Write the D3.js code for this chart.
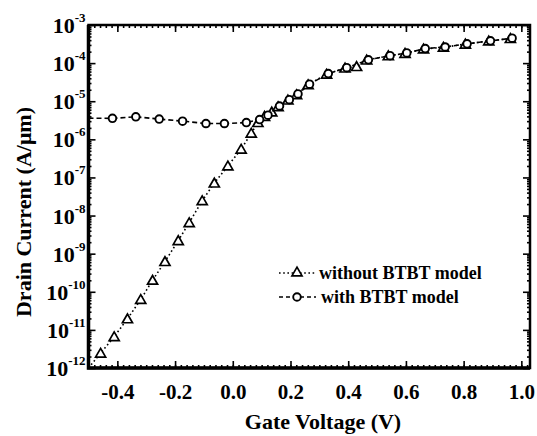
<!DOCTYPE html>
<html><head><meta charset="utf-8">
<script src="https://cdn.jsdelivr.net/npm/d3@7"></script>
<style>
html,body{margin:0;padding:0;background:#fff;}
text{font-family:"Liberation Serif","Times New Roman",serif;font-weight:bold;fill:#000;}
</style></head>
<body><svg id="c" width="537" height="436"></svg>
<script>
// Gate voltage (V) and drain current (A/um) — without BTBT model (triangles)
const vWithout = [-0.5, -0.458, -0.411, -0.365, -0.319, -0.278, -0.235, -0.189, -0.151, -0.106, -0.064, -0.017, 0.029, 0.064, 0.087, 0.110, 0.135, 0.157, 0.191, 0.221, 0.261, 0.325, 0.389, 0.429, 0.464, 0.539, 0.597, 0.661, 0.730, 0.806, 0.887, 0.962];
const iWithout = [1.0e-12, 2.45e-12, 6.6e-12, 1.95e-11, 6.3e-11, 2.0e-10, 6.2e-10, 2.2e-9, 6.5e-9, 2.45e-8, 7.1e-8, 2.0e-7, 5.5e-7, 1.45e-6, 2.75e-6, 4.0e-6, 5.2e-6, 7.2e-6, 1.07e-5, 1.48e-5, 2.7e-5, 5.1e-5, 7.4e-5, 8.1e-5, 1.2e-4, 1.55e-4, 1.8e-4, 2.35e-4, 2.6e-4, 3.15e-4, 3.8e-4, 4.4e-4];
// with BTBT model (circles)
const vWith = [-0.5, -0.417, -0.336, -0.255, -0.174, -0.093, -0.029, 0.047, 0.093, 0.122, 0.162, 0.196, 0.226, 0.266, 0.331, 0.395, 0.470, 0.545, 0.603, 0.667, 0.736, 0.812, 0.893, 0.968];
const iWith = [3.6e-6, 3.55e-6, 3.9e-6, 3.4e-6, 3.0e-6, 2.6e-6, 2.6e-6, 2.75e-6, 3.3e-6, 4.3e-6, 7.5e-6, 1.1e-5, 1.55e-5, 2.8e-5, 5.3e-5, 7.6e-5, 1.22e-4, 1.57e-4, 1.85e-4, 2.4e-4, 2.65e-4, 3.2e-4, 3.85e-4, 4.5e-4];
const xTicks = [-0.4, -0.2, 0.0, 0.2, 0.4, 0.6, 0.8, 1.0];
const yTickExps = [-12, -11, -10, -9, -8, -7, -6, -5, -4, -3];
const legendLabels = ["without BTBT model", "with BTBT model"];
const xTitle = "Gate Voltage (V)";
const yTitle = "Drain Current (A/\u03bcm)";

const svg = d3.select("#c");
const L = 88.5, R = 530, T = 25, B = 368;
const x = d3.scaleLinear().domain([-0.5, 1.03]).range([L, R]);
const y = d3.scaleLog().domain([1e-12, 1e-3]).range([B, T]);

const fmt = v => d3.format(".1f")(v).replace("\u2212", "-");
const xMinor = d3.range(-0.5, 1.031, 0.02).map(v => +v.toFixed(2));
const yMinor = [];
yTickExps.slice(0, -1).forEach(e => { for (let k = 2; k <= 9; k++) yMinor.push(k * Math.pow(10, e)); });
const yMajor = yTickExps.map(e => Math.pow(10, e));

function styleAxis(g) { g.select(".domain").remove(); g.selectAll("line").attr("stroke", "#000").attr("stroke-width", 1.6); }

// bottom
svg.append("g").attr("transform", `translate(0,${B})`).call(d3.axisBottom(x).tickValues(xMinor).tickSizeInner(-3).tickSizeOuter(0).tickFormat("")).call(styleAxis);
svg.append("g").attr("transform", `translate(0,${B})`).call(d3.axisBottom(x).tickValues(xTicks).tickSizeInner(-7).tickSizeOuter(0).tickPadding(16).tickFormat(fmt)).call(styleAxis)
  .selectAll("text").attr("font-size", 21).attr("font-family", "Liberation Serif").attr("font-weight", "bold");
// top
svg.append("g").attr("transform", `translate(0,${T})`).call(d3.axisTop(x).tickValues(xMinor).tickSizeInner(-3).tickSizeOuter(0).tickFormat("")).call(styleAxis);
svg.append("g").attr("transform", `translate(0,${T})`).call(d3.axisTop(x).tickValues(xTicks).tickSizeInner(-7).tickSizeOuter(0).tickFormat("")).call(styleAxis);
// left
svg.append("g").attr("transform", `translate(${L},0)`).call(d3.axisLeft(y).tickValues(yMinor).tickSizeInner(-3).tickSizeOuter(0).tickFormat("")).call(styleAxis);
svg.append("g").attr("transform", `translate(${L},0)`).call(d3.axisLeft(y).tickValues(yMajor).tickSizeInner(-7).tickSizeOuter(0).tickFormat("")).call(styleAxis);
// right
svg.append("g").attr("transform", `translate(${R},0)`).call(d3.axisRight(y).tickValues(yMinor).tickSizeInner(-3).tickSizeOuter(0).tickFormat("")).call(styleAxis);
svg.append("g").attr("transform", `translate(${R},0)`).call(d3.axisRight(y).tickValues(yMajor).tickSizeInner(-7).tickSizeOuter(0).tickFormat("")).call(styleAxis);

// frame
svg.append("path").attr("d", `M${L},${T}H${R}V${B}H${L}Z`).attr("fill", "none").attr("stroke", "#000").attr("stroke-width", 2.5);
svg.append("path").attr("d", `M${L},${T}V${B}H${R}`).attr("fill", "none").attr("stroke", "#000").attr("stroke-width", 3.5);

// y tick labels
const yl = svg.append("g").selectAll("text").data(yTickExps).join("text")
  .attr("x", L - 3).attr("y", e => y(Math.pow(10, e)) + 8).attr("text-anchor", "end").attr("font-size", 22);
yl.append("tspan").text("10");
yl.append("tspan").attr("dy", -11).attr("font-size", 13).text(e => "-" + Math.abs(e));

// titles
svg.append("text").attr("x", 323).attr("y", 429).attr("text-anchor", "middle").attr("font-size", 22).text(xTitle);
svg.append("text").attr("transform", "translate(31,212) rotate(-90)").attr("text-anchor", "middle").attr("font-size", 22).text(yTitle);

// series
const clipId = "clip";
svg.append("clipPath").attr("id", clipId).append("rect").attr("x", L).attr("y", T).attr("width", R - L).attr("height", B - T);
const line = d3.line().x(d => x(d[0])).y(d => y(d[1]));
const dWithout = vWithout.map((v, i) => [v, iWithout[i]]);
const dWith = vWith.map((v, i) => [v, iWith[i]]);
const triPath = d3.symbol().type(d3.symbolTriangle).size(44);

svg.append("path").datum(dWithout).attr("d", line).attr("fill", "none").attr("stroke", "#000").attr("stroke-width", 1.6).attr("stroke-dasharray", "1.6,2.6").attr("clip-path", `url(#${clipId})`);
svg.append("path").datum(dWith).attr("d", line).attr("fill", "none").attr("stroke", "#000").attr("stroke-width", 1.6).attr("stroke-dasharray", "5,3").attr("clip-path", `url(#${clipId})`);

svg.append("g").selectAll("path").data(dWithout.slice(1)).join("path")
  .attr("d", triPath).attr("transform", d => `translate(${x(d[0])},${y(d[1]) + 1})`)
  .attr("fill", "#fff").attr("stroke", "#000").attr("stroke-width", 1.7);
svg.append("g").selectAll("circle").data(dWith.slice(1)).join("circle")
  .attr("cx", d => x(d[0])).attr("cy", d => y(d[1])).attr("r", 3.8)
  .attr("fill", "#fff").attr("stroke", "#000").attr("stroke-width", 1.9);

// legend
const lg = svg.append("g");
const rows = [{dash: "1.6,2.6", mk: "tri", yy: 273}, {dash: "4,3", mk: "circ", yy: 297}];
rows.forEach((r, i) => {
  lg.append("line").attr("x1", 279).attr("x2", 316).attr("y1", r.yy).attr("y2", r.yy).attr("stroke", "#000").attr("stroke-width", 1.6).attr("stroke-dasharray", r.dash);
  if (r.mk === "tri") lg.append("path").attr("d", triPath).attr("transform", `translate(297,${r.yy})`).attr("fill", "#fff").attr("stroke", "#000").attr("stroke-width", 1.7);
  else lg.append("circle").attr("cx", 297).attr("cy", r.yy).attr("r", 3.8).attr("fill", "#fff").attr("stroke", "#000").attr("stroke-width", 1.9);
  lg.append("text").attr("x", 319 + i * 2).attr("y", r.yy + 6).attr("font-size", 18).text(legendLabels[i]);
});
</script></body></html>
